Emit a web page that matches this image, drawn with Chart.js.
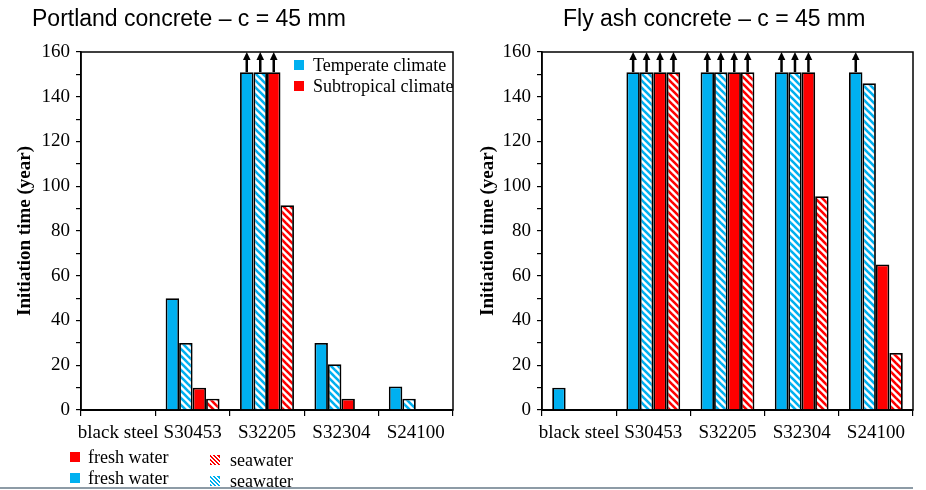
<!doctype html>
<html>

<head>
    <meta charset="utf-8">
    <title>Initiation time</title>
    <script src="https://cdn.jsdelivr.net/npm/chart.js"></script>
    <style>
        body { margin: 0; background: #fff; width: 926px; height: 490px; position: relative; overflow: hidden; }
        .caixa { position: absolute; top: 0; width: 463px; height: 490px; }
        .titulo { position: absolute; top: 4px; font: 23px "Liberation Sans", Arial, sans-serif; color: #000; white-space: nowrap; line-height: 28px; }
        .leg { position: absolute; height: 20px; line-height: 20px; font: 18px "Liberation Serif", "Times New Roman", serif; color: #000; white-space: nowrap; }
        .leg i { position: absolute; left: 0; top: 5px; width: 10px; height: 10px; }
        .azul { background: #00b0f0; }
        .verm { background: #ff0000; }
        .azulh { background: repeating-linear-gradient(45deg, #00b0f0 0 1.5px, #fff 1.5px 3px); }
        .vermh { background: repeating-linear-gradient(45deg, #ff0000 0 1.5px, #fff 1.5px 3px); }
        .linha { position: absolute; left: 0; top: 487px; width: 913px; height: 2px; background: #8d9ba6; }
    </style>
</head>

<body>

    <div class="caixa" style="left: 0;"><canvas id="portland" width="463" height="490"></canvas></div>
    <div class="caixa" style="left: 463px;"><canvas id="flyash" width="463" height="490"></canvas></div>

    <div class="titulo" style="left: 32px;">Portland concrete – c = 45 mm</div>
    <div class="titulo" style="left: 563px;">Fly ash concrete – c = 45 mm</div>

    <div class="leg" style="left: 294px; top: 55px; padding-left: 19px;"><i class="azul"></i>Temperate climate</div>
    <div class="leg" style="left: 294px; top: 76px; padding-left: 19px;"><i class="verm"></i>Subtropical climate</div>

    <div class="leg" style="left: 70px; top: 447px; padding-left: 18px;"><i class="verm"></i>fresh water</div>
    <div class="leg" style="left: 70px; top: 468px; padding-left: 18px;"><i class="azul"></i>fresh water</div>
    <div class="leg" style="left: 210px; top: 450px; padding-left: 20px;"><i class="vermh"></i>seawater</div>
    <div class="leg" style="left: 210px; top: 471px; padding-left: 20px;"><i class="azulh"></i>seawater</div>

    <div class="linha"></div>

    <script>
        // dados (anos)
        var categorias = ['black steel', 'S30453', 'S32205', 'S32304', 'S24100'];

        var portlandTempDoce = [0, 50, 151, 30, 10.5];
        var portlandTempMar = [0, 30, 151, 20.5, 5];
        var portlandSubDoce = [0, 10, 151, 5, 0];
        var portlandSubMar = [0, 5, 91.5, 0, 0];

        var flyTempDoce = [10, 151, 151, 151, 151];
        var flyTempMar = [0, 151, 151, 151, 146];
        var flySubDoce = [0, 151, 151, 151, 65];
        var flySubMar = [0, 151, 151, 95.5, 25.5];

        // barras com este valor passaram do horizonte de calculo (seta)
        var limite = 151;

        var azul = '#00b0f0';
        var vermelho = '#ff0000';

        function hachura(cor) {
            var c = document.createElement('canvas');
            var s = 7;
            c.width = s;
            c.height = s;
            var g = c.getContext('2d');
            g.fillStyle = '#fff';
            g.fillRect(0, 0, s, s);
            g.strokeStyle = cor;
            g.lineWidth = 2.6;
            [-s, 0, s].forEach(function (d) {
                g.beginPath();
                g.moveTo(d - 1, -1);
                g.lineTo(d + s + 1, s + 1);
                g.stroke();
            });
            return g.createPattern(c, 'repeat');
        }

        var setasMoldura = {
            id: 'setasMoldura',
            afterDatasetsDraw(chart) {
                var ctx = chart.ctx;
                var a = chart.chartArea;
                ctx.save();
                ctx.strokeStyle = '#000';
                ctx.fillStyle = '#000';
                chart.data.datasets.forEach(function (ds, i) {
                    chart.getDatasetMeta(i).data.forEach(function (bar, j) {
                        if (ds.data[j] < limite) return;
                        var x = bar.x;
                        ctx.lineWidth = 2.5;
                        ctx.beginPath();
                        ctx.moveTo(x, bar.y);
                        ctx.lineTo(x, a.top + 6);
                        ctx.stroke();
                        ctx.beginPath();
                        ctx.moveTo(x, a.top);
                        ctx.lineTo(x - 3.8, a.top + 8);
                        ctx.lineTo(x + 3.8, a.top + 8);
                        ctx.closePath();
                        ctx.fill();
                    });
                });
                ctx.lineWidth = 1.5;
                ctx.strokeRect(a.left, a.top, a.right - a.left, a.bottom - a.top);
                ctx.restore();
            }
        };

        function serie(label, dados, cor) {
            return {
                label: label,
                data: dados,
                backgroundColor: cor,
                borderColor: '#000',
                borderWidth: 1.8,
                categoryPercentage: 0.725,
                barPercentage: 1
            };
        }

        function grafico(id, dados, direita, larguraY) {
            return new Chart(document.getElementById(id).getContext('2d'), {
                type: 'bar',
                data: {
                    labels: categorias,
                    datasets: [
                        serie('Temperate climate – fresh water', dados[0], azul),
                        serie('Temperate climate – seawater', dados[1], hachura(azul)),
                        serie('Subtropical climate – fresh water', dados[2], vermelho),
                        serie('Subtropical climate – seawater', dados[3], hachura(vermelho))
                    ]
                },
                options: {
                    responsive: false,
                    animation: false,
                    layout: { padding: { left: 0, top: 52, right: direita, bottom: 0 } },
                    plugins: { legend: { display: false }, tooltip: { enabled: false } },
                    scales: {
                        x: {
                            grid: { offset: true, drawOnChartArea: false, color: '#000', tickLength: 6, lineWidth: 1.2 },
                            border: { color: '#000', width: 2 },
                            ticks: {
                                color: '#000', padding: 6, maxRotation: 0, autoSkip: false,
                                font: { family: 'Liberation Serif', size: 19 }
                            },
                            afterFit(s) { s.height = 80; }
                        },
                        y: {
                            min: 0,
                            max: 160,
                            grid: { drawOnChartArea: false, color: '#000', tickLength: 5, lineWidth: 1.2 },
                            border: { color: '#000', width: 1.5 },
                            ticks: {
                                stepSize: 10, autoSkip: false, color: '#000', padding: 6,
                                font: { family: 'Liberation Serif', size: 19 },
                                callback: function (v) { return v % 20 === 0 ? v : ''; }
                            },
                            title: {
                                display: true,
                                text: 'Initiation time (year)',
                                color: '#000',
                                font: { family: 'Liberation Serif', size: 19, weight: 'bold' },
                                padding: { top: 14, bottom: 0 }
                            },
                            afterFit(s) { s.width = larguraY; }
                        }
                    }
                },
                plugins: [setasMoldura]
            });
        }

        grafico('portland', [portlandTempDoce, portlandTempMar, portlandSubDoce, portlandSubMar], 10, 81);
        grafico('flyash', [flyTempDoce, flyTempMar, flySubDoce, flySubMar], 13, 79);
    </script>
</body>

</html>
